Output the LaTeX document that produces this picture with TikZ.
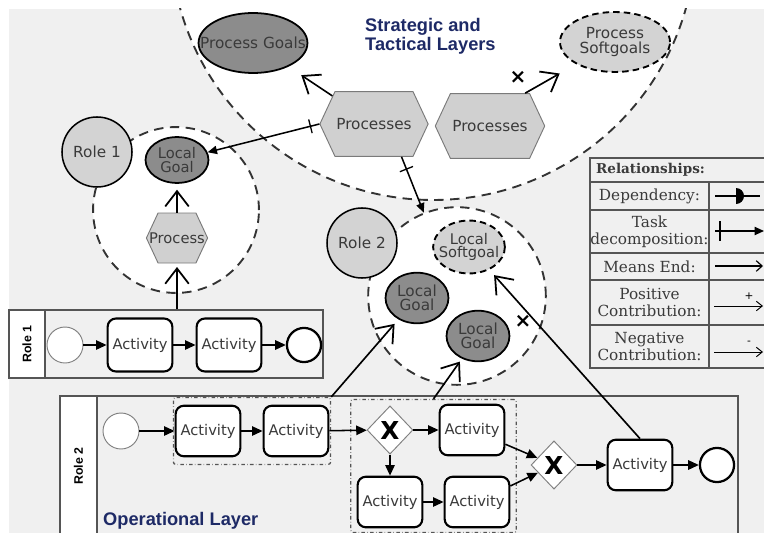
\documentclass[tikz,border=0pt]{standalone}
\usepackage{fontspec}
\setmainfont{DejaVu Sans}
\newfontfamily\legendfont{DejaVu Serif}
\newfontfamily\layerfont{Liberation Sans}
\usetikzlibrary{arrows.meta,shapes.geometric,shapes.symbols,fit,positioning}
\definecolor{bggray}{HTML}{F0F0F0}
\definecolor{rolegray}{HTML}{D3D3D3}
\definecolor{goalgray}{HTML}{8C8C8C}
\definecolor{hexgray}{HTML}{D0D0D0}
\definecolor{hexline}{HTML}{7A7A7A}
\definecolor{textgray}{HTML}{3A3A3A}
\definecolor{layerblue}{HTML}{1E2A66}
\definecolor{lineg}{HTML}{555555}

\begin{document}
\begin{tikzpicture}[x=0.85pt, y=-0.85pt,
  nodefont/.style={font=\fontsize{12.5}{11.5}\selectfont, text=textgray, align=center, inner sep=0pt},
  activity/.style={draw, line width=1.8pt, rounded corners=7pt, fill=white, minimum width=55pt, minimum height=43pt, nodefont},
  startev/.style={circle, draw=gray, line width=0.8pt, fill=white, minimum size=30.6pt, inner sep=0pt},
  endev/.style={circle, draw, line width=1.9pt, fill=white, minimum size=29pt, inner sep=0pt},
  gateway/.style={diamond, draw=gray, line width=0.8pt, fill=white, minimum width=39pt, minimum height=41pt, inner sep=0pt, font=\fontsize{21}{21}\selectfont\bfseries},
  role/.style={circle, draw, line width=1.3pt, fill=rolegray, minimum size=59.5pt, nodefont, font=\fontsize{13}{13}\selectfont},
  goal/.style={ellipse, draw, line width=1.5pt, fill=goalgray, inner sep=0pt},
  softgoal/.style={ellipse, draw, dash pattern=on 5.5pt off 3.5pt, line width=1.6pt, fill=rolegray, inner sep=0pt},
  task/.style={signal, signal to=east and west, signal pointer angle=130, draw=hexline, line width=0.8pt, fill=hexgray, inner sep=0pt},
  arealine/.style={draw=black!80, dash pattern=on 8pt off 5.5pt, line width=1.6pt},
  area/.style={circle, arealine, fill=white, inner sep=0pt},
  seqflow/.style={-{Triangle[length=9pt,width=8pt]}, line width=1.3pt},
  meansend/.style={-{Straight Barb[length=13pt,width=20pt,line width=1.5pt]}, line width=1.4pt, shorten >=5pt},
  taskdec/.style={-{Triangle[length=8pt,width=7pt]}, line width=1.3pt},
  tickbar/.style={draw, line width=1.1pt, inner sep=0pt, minimum width=0pt, minimum height=12pt, sloped},
  xmark/.style={font=\fontsize{17}{17}\selectfont\bfseries, inner sep=0pt},
  grpbox/.style={draw=lineg, dash dot, line width=1.1pt, rounded corners=2pt},
  lanebox/.style={draw=lineg, line width=1pt, fill=bggray, inner sep=0pt},
  lanelabel/.style={draw=lineg, line width=1pt, fill=white, inner sep=0pt},
  laneroles/.style={rotate=90, font=\layerfont\bfseries\fontsize{10.5}{10.5}\selectfont},
  layertitle/.style={text=layerblue, align=left, inner sep=0pt, font=\layerfont\bfseries\fontsize{15.5}{16.5}\selectfont},
  legendtext/.style={text=textgray, align=center, inner sep=0pt, font=\legendfont\fontsize{13}{14.5}\selectfont}]

  \useasboundingbox (0,0) rectangle (764,533);
  \fill[bggray] (9,9) rectangle (770,540);

  % strategic and tactical layers
  \begin{scope}
    \clip (9,9) rectangle (770,540);
    \draw[arealine, fill=white] (433,-62.6) circle[radius=223.2pt];
  \end{scope}
  \node[area, minimum size=141pt] (r1area) at (176,210) {};
  \node[area, minimum size=151pt] (r2area) at (457,296) {};

  \node[layertitle, anchor=north west] (stratlbl) at (365,18) {Strategic and\\Tactical Layers};
  \node[goal, minimum width=92.6pt, minimum height=51pt] (pgoal) at (253,43) {};
  \node[nodefont, font=\fontsize{13}{13}\selectfont] (pgoaltxt) at (pgoal) {Process Goals};
  \node[softgoal, minimum width=93.5pt, minimum height=51pt] (psoft) at (615,42) {};
  \node[nodefont, font=\fontsize{13}{12.5}\selectfont] (psofttxt) at (psoft) {Process\\Softgoals};
  \node[task, minimum width=92pt, minimum height=55pt] (hexA) at (374,124) {};
  \node[nodefont, font=\fontsize{13}{13}\selectfont] (hexAtxt) at (hexA) {Processes};
  \node[task, minimum width=93pt, minimum height=55pt] (hexB) at (490,126) {};
  \node[nodefont, font=\fontsize{13}{13}\selectfont] (hexBtxt) at (hexB) {Processes};

  % role 1
  \node[role] (r1) at (97,152) {Role 1};
  \node[goal, minimum width=53.5pt, minimum height=39pt] (lg1) at (177,160) {};
  \node[nodefont] (lg1txt) at (lg1) {Local\\Goal};
  \node[task, minimum width=52pt, minimum height=42.5pt] (proc1) at (177,238) {};
  \node[nodefont] (proc1txt) at (proc1) {Process};

  % role 2
  \node[role] (r2) at (362,243) {Role 2};
  \node[softgoal, minimum width=61pt, minimum height=45pt] (lsoft) at (469,247) {};
  \node[nodefont] (lsofttxt) at (lsoft) {Local\\Softgoal};
  \node[goal, minimum width=53.5pt, minimum height=43pt] (lg2a) at (417,298) {};
  \node[nodefont, font=\fontsize{13}{12}\selectfont] (lg2atxt) at (lg2a) {Local\\Goal};
  \node[goal, minimum width=53.5pt, minimum height=43pt] (lg2b) at (478,336) {};
  \node[nodefont, font=\fontsize{13}{12}\selectfont] (lg2btxt) at (lg2b) {Local\\Goal};

  % lane role 1
  \node[lanelabel, fit={(9,310) (45,378)}] (lane1lbl) {};
  \node[lanebox, fit={(45,310) (323,378)}] (lane1) {};
  \node[laneroles] (lane1txt) at (lane1lbl) {Role 1};
  \node[startev] (start1) at (65,345) {};
  \node[activity, minimum height=45pt] (act1) at (140,345) {Activity};
  \node[activity, minimum height=45pt] (act2) at (229,345) {Activity};
  \node[endev] (end1) at (304,345) {};

  % lane role 2
  \node[lanelabel, fit={(60,396) (97,540)}] (lane2lbl) {};
  \node[lanebox, fit={(97,396) (738,540)}] (lane2) {};
  \node[laneroles] (lane2txt) at (78.5,466) {Role 2};
  \node[layertitle, anchor=base west] (operlbl) at (103,525) {Operational Layer};
  \node[startev] (start2) at (121,431) {};
  \node[activity] (a1) at (208,431) {Activity};
  \node[activity] (a2) at (296,431) {Activity};
  \node[gateway] (gw1) at (390,430) {X};
  \node[activity] (a3) at (472,430) {Activity};
  \node[activity] (a4) at (390,502) {Activity};
  \node[activity] (a5) at (477,502) {Activity};
  \node[gateway] (gw2) at (554,465) {X};
  \node[activity] (a6) at (640,465) {Activity};
  \node[endev] (end2) at (717,465) {};
  \node[grpbox, fit=(a1)(a2), inner xsep=1pt, inner ysep=6pt] (grp1) {};
  \node[grpbox, fit=(gw1)(a3)(a4)(a5), inner xsep=5pt, inner ysep=3.5pt] (grp2) {};

  % sequence flows
  \draw[seqflow] (start1) -- (act1);
  \draw[seqflow] (act1) -- (act2);
  \draw[seqflow] (act2) -- (end1);
  \draw[seqflow] (start2) -- (a1);
  \draw[seqflow] (a1) -- (a2);
  \draw[seqflow] (a2) -- (gw1);
  \draw[seqflow] (gw1) -- (a3);
  \draw[seqflow] (gw1) -- (a4);
  \draw[seqflow] (a4) -- (a5);
  \draw[seqflow] (a3) -- (gw2);
  \draw[seqflow] (a5) -- (gw2);
  \draw[seqflow] (gw2) -- (a6);
  \draw[seqflow] (a6) -- (end2);

  % intentional links
  \draw[meansend, shorten >=13pt] (hexA.146) -- (pgoal);
  \draw[meansend, shorten >=16pt] (hexB.43) -- (psoft);
  \node[xmark] (negx1) at (518,77) {×};
  \draw[taskdec] (hexA.west) -- node[tickbar, pos=0.08]{} (lg1);
  \draw[taskdec] (hexA.-50) -- node[tickbar, pos=0.22]{} (r2area);
  \draw[meansend] (proc1.north) -- (lg1);
  \draw[meansend, shorten >=3pt] (proc1 |- lane1.north) -- (proc1.south);
  \draw[meansend] (grp1.north east) -- (lg2a);
  \draw[meansend, shorten >=3pt] (grp2.north) -- (lg2b);
  \draw[meansend, shorten >=6pt] (a6.north) -- (lsoft);
  \node[xmark] (negx2) at (523,321) {×};

  % legend
  \draw[lineg, line width=1.2pt] (590,158) rectangle (775,368);
  \foreach \yy in {182,210,253,280,325}
    \draw[lineg, line width=1.2pt] (590,\yy) -- (775,\yy);
  \draw[lineg, line width=1.2pt] (709,182) -- (709,368);
  \node[legendtext, anchor=west, font=\legendfont\bfseries\fontsize{11.5}{12}\selectfont] (lghead) at (596,170) {Relationships:};
  \node[legendtext] (lgdep) at (649.5,196) {Dependency:};
  \node[legendtext] (lgtask) at (649.5,231.5) {Task\\decomposition:};
  \node[legendtext] (lgmeans) at (649.5,266.5) {Means End:};
  \node[legendtext] (lgpos) at (649.5,302.5) {Positive\\Contribution:};
  \node[legendtext] (lgneg) at (649.5,346.5) {Negative\\Contribution:};
  \draw[line width=1.2pt] (715,196) -- (760,196);
  \fill (736,188) arc[start angle=90, end angle=-90, radius=6.8pt] -- cycle;
  \draw[line width=1.2pt] (720,221) -- (720,241);
  \draw[taskdec, line width=1.2pt] (715,231) -- (764,231);
  \draw[-{Straight Barb[length=5pt,width=9pt]}, line width=1pt] (715,266) -- (763,266);
  \draw[-{Straight Barb[length=5pt,width=8pt]}, line width=0.8pt] (714,306) -- (763,306);
  \node[inner sep=0pt, font=\fontsize{9}{9}\selectfont] (lgplus) at (749,296) {+};
  \draw[-{Straight Barb[length=5pt,width=8pt]}, line width=0.8pt] (714,352) -- (763,352);
  \node[inner sep=0pt, font=\fontsize{9}{9}\selectfont] (lgminus) at (749,343) {-};
\end{tikzpicture}
\end{document}
